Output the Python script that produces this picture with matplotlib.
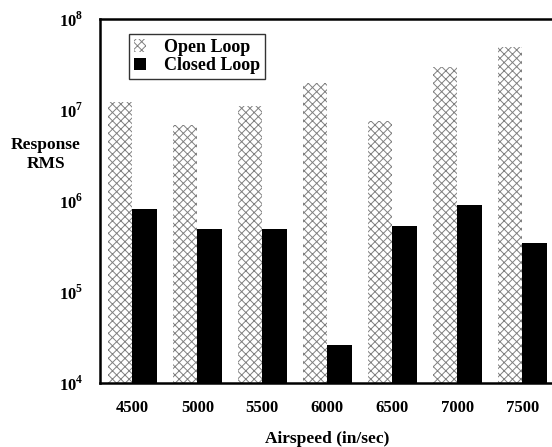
import numpy as np
import matplotlib
matplotlib.use('Agg')
import matplotlib.pyplot as plt
from matplotlib import ticker

plt.rcParams['font.family'] = ['Liberation Serif', 'DejaVu Serif']
plt.rcParams['font.weight'] = 'bold'
plt.rcParams['mathtext.fontset'] = 'custom'
plt.rcParams['mathtext.rm'] = 'Liberation Serif:bold'
plt.rcParams['mathtext.bf'] = 'Liberation Serif:bold'
plt.rcParams['hatch.linewidth'] = 0.7

airspeed = ['4500', '5000', '5500', '6000', '6500', '7000', '7500']
open_loop = [1.22e7, 6.8e6, 1.1e7, 1.98e7, 7.7e6, 2.97e7, 4.9e7]
closed_loop = [8.2e5, 5.0e5, 5.0e5, 2.6e4, 5.3e5, 9.0e5, 3.45e5]

x = np.arange(len(airspeed))
w = 0.38

fig = plt.figure(figsize=(5.52, 4.47), dpi=100)
ax = fig.add_axes([0.181, 0.143, 0.824, 0.814])

ax.bar(x - w / 2, open_loop, w, color='white', edgecolor='#808080',
       linewidth=0, hatch='xxxx', label='Open Loop')
ax.bar(x + w / 2, closed_loop, w, color='black', edgecolor='black',
       linewidth=0, label='Closed Loop')

ax.set_yscale('log')
ax.set_ylim(1e4, 1e8)
ax.set_xlim(-0.5, len(airspeed) - 0.5)
ax.set_xticks(x)
ax.set_xticklabels(airspeed, fontsize=12, fontweight='bold')
ax.set_yticks([1e4, 1e5, 1e6, 1e7, 1e8])
ax.yaxis.set_major_formatter(ticker.FuncFormatter(
    lambda v, p: r'$10^{%d}$' % round(np.log10(v))))
ax.yaxis.set_minor_locator(ticker.NullLocator())
ax.tick_params(axis='y', length=0, pad=12, labelsize=12)
ax.tick_params(axis='x', length=0, pad=12)

for side in ['left', 'top', 'bottom']:
    ax.spines[side].set_linewidth(1.8)
ax.spines['right'].set_visible(False)

ax.set_xlabel('Airspeed (in/sec)', fontsize=12.5, fontweight='bold', labelpad=11)
fig.text(0.083, 0.655, 'Response\nRMS', ha='center', va='center',
         fontsize=12.5, fontweight='bold', linespacing=1.25)

leg = ax.legend(loc='upper left', bbox_to_anchor=(0.064, 0.959), fontsize=13,
                frameon=True, fancybox=False, borderpad=0.25, handlelength=0.7,
                handleheight=0.7, handletextpad=1.0, labelspacing=0.1,
                borderaxespad=0)
leg.get_frame().set_edgecolor('black')
leg.get_frame().set_linewidth(1.0)

fig.savefig('out.png', dpi=100)
